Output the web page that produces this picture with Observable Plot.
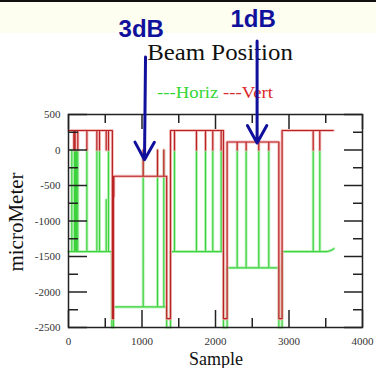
<!DOCTYPE html>
<html><head><meta charset="utf-8">
<script src="https://cdn.jsdelivr.net/npm/d3@7"></script>
<script src="https://cdn.jsdelivr.net/npm/@observablehq/plot@0.6"></script>
<style>
html,body{margin:0;padding:0;background:#fff;width:376px;height:368px;overflow:hidden;}
#wrap{position:relative;width:376px;height:368px;}
#topbar{position:absolute;left:0;top:0;width:376px;height:2px;background:#111;}
#band{position:absolute;left:0;top:2px;width:376px;height:31px;background:#fdfdf0;}
.t{position:absolute;font-family:"Liberation Serif","Times New Roman",serif;white-space:nowrap;line-height:1;}
#title{left:220px;top:40.7px;font-size:23px;color:#111;transform:translateX(-50%) scaleX(1.08);}
#legend{left:214.5px;top:83.5px;font-size:17px;transform:translateX(-50%) scaleX(1.1);}
#xlab{left:216px;top:350px;font-size:18px;color:#111;transform:translateX(-50%);}
#ylab{left:16px;top:222px;font-size:21px;color:#111;transform:translate(-50%,-50%) rotate(-90deg);}
#chart{position:absolute;left:0;top:0;}
</style></head>
<body>
<div id="wrap">
  <div id="topbar"></div>
  <div id="band"></div>
  <div class="t" id="title">Beam Position</div>
  <div class="t" id="legend"><span style="color:#33d633">---Horiz</span> <span style="color:#dd2a2a">---Vert</span></div>
  <div class="t" id="xlab">Sample</div>
  <div class="t" id="ylab">microMeter</div>
  <div id="chart"></div>
</div>
<script>
// ---- values ----
const segStart   = [0, 612, 1388, 2158, 2906];
const horizEnd   = [590, 1336, 2108, 2862, 3520];
const vertEnd    = [597, 1336, 2108, 2862, 3601];
const horizLevel = [-1430, -2210, -1430, -1660, -1430];
const vertLevel  = [275, -370, 275, 113, 275];
const horizDrop = -2500;
const vertDrop  = -2375;
const horizSpikeX = [45, 80, 92, 108, 126, 250, 386, 422, 513, 544, 1016, 1211, 1297, 1442, 1741, 1864, 1963, 2077, 2295, 2417, 2589, 2725, 3329, 3419];
const horizSpikeY = [0, 0, 0, 0, 0, 0, 0, 0, -700, 0, 0, 0, 0, 0, 0, 0, 0, 0, 0, 0, 0, 0, 0, 0];
const vertSpikeX  = [73, 90, 127, 250, 386, 422, 513, 544, 617, 1016, 1211, 1297, 1442, 1741, 1864, 1963, 2077, 2295, 2417, 2589, 2725, 3329, 3419];
const vertSpikeY  = [0, 0, 0, 0, 0, 0, 0, 0, -660, 0, 0, 0, 0, 0, 0, 0, 0, 0, 0, 0, 0, 0, 0];
const horizTailX = [3565, 3610];
const horizTailY = [-1418, -1390];

const yMajor = [-2500, -2000, -1500, -1000, -500, 0, 500];
const yMinor = [-2250, -1750, -1250, -750, -250, 250];
const xMajor = [0, 1000, 2000, 3000, 4000];
const xMinor = [500, 1500, 2500, 3500];

const annoLabel = ["3dB", "1dB"];
const annoTopX  = [1048, 2566];
const annoTopY  = [1310, 1536];
const annoTipX  = [1034, 2566];
const annoTipY  = [-137, 99];
const annoTextX = [681, 2204];
const annoTextY = [1598, 1726];

// ---- build line tables from the values above ----
function buildSeries(levels, ends, drop, spX, spY, tailX, tailY) {
  const pts = [];
  for (let i = 0; i < segStart.length; i++) {
    const s = segStart[i], e = ends[i], L = levels[i];
    if (i > 0) pts.push({x: s, y: drop});
    pts.push({x: s, y: L});
    spX.forEach((sx, j) => {
      if (sx > s && sx < e) pts.push({x: sx, y: L}, {x: sx, y: spY[j]}, {x: sx, y: L});
    });
    pts.push({x: e, y: L});
    if (i < segStart.length - 1) pts.push({x: e, y: drop});
  }
  tailX.forEach((tx, j) => pts.push({x: tx, y: tailY[j]}));
  return pts;
}
const horiz = buildSeries(horizLevel, horizEnd, horizDrop, horizSpikeX, horizSpikeY, horizTailX, horizTailY);
const vert  = buildSeries(vertLevel, vertEnd, vertDrop, vertSpikeX, vertSpikeY, [], []);

const W = 376, H = 368, mL = 68, mR = 14, mT = 114, mB = 41;
const iw = W - mL - mR, ih = H - mT - mB;
const tickStyle = {stroke: "#222", strokeWidth: 1.5};
const fmt = d => String(d);
const idx = annoLabel.map((_, i) => i);

const chart = Plot.plot({
  width: W, height: H,
  marginLeft: mL, marginRight: mR, marginTop: mT, marginBottom: mB,
  x: {domain: [0, 4000]},
  y: {domain: [-2500, 500]},
  style: {fontFamily: "Liberation Serif, serif", fontSize: "11px", color: "#333", background: "transparent", overflow: "visible"},
  marks: [
    Plot.line(horiz, {x: "x", y: "y", stroke: "#b8f3b8", strokeWidth: 3, strokeOpacity: 0.9}),
    Plot.line(horiz, {x: "x", y: "y", stroke: "#3fd23f", strokeWidth: 1.2}),
    Plot.line(vert, {x: "x", y: "y", stroke: "#f2b4b4", strokeWidth: 3, strokeOpacity: 0.85}),
    Plot.line(vert, {x: "x", y: "y", stroke: "#b82222", strokeWidth: 1.2}),
    Plot.frame(tickStyle),
    Plot.tickY(yMajor, {y: d => d, insetRight: iw - 19, ...tickStyle}),
    Plot.tickY(yMinor, {y: d => d, insetRight: iw - 10, ...tickStyle}),
    Plot.tickY(yMajor, {y: d => d, insetLeft: iw - 18, ...tickStyle}),
    Plot.tickY(yMinor, {y: d => d, insetLeft: iw - 9, ...tickStyle}),
    Plot.tickX(xMajor, {x: d => d, insetBottom: ih - 15, ...tickStyle}),
    Plot.tickX(xMinor, {x: d => d, insetBottom: ih - 9, ...tickStyle}),
    Plot.tickX(xMajor, {x: d => d, insetTop: ih - 17, ...tickStyle}),
    Plot.tickX(xMinor, {x: d => d, insetTop: ih - 9, ...tickStyle}),
    Plot.axisY({ticks: yMajor, tickSize: 0, tickPadding: 8, tickFormat: fmt, label: null, fontSize: 11}),
    Plot.axisX({ticks: xMajor, tickSize: 0, tickPadding: 10, tickFormat: fmt, label: null, fontSize: 11}),
    Plot.arrow(idx, {x1: i => annoTopX[i], y1: i => annoTopY[i], x2: i => annoTipX[i], y2: i => annoTipY[i],
      stroke: "#10109c", strokeWidth: 3, headLength: 10, headAngle: 58}),
    Plot.text(idx, {x: i => annoTextX[i], y: i => annoTextY[i], text: i => annoLabel[i],
      textAnchor: "start", lineAnchor: "bottom", fontFamily: "Liberation Sans, Arial, sans-serif",
      fontWeight: "bold", fontSize: 24, fill: "#10109c"})
  ]
});
document.getElementById("chart").appendChild(chart);
</script>
</body></html>
